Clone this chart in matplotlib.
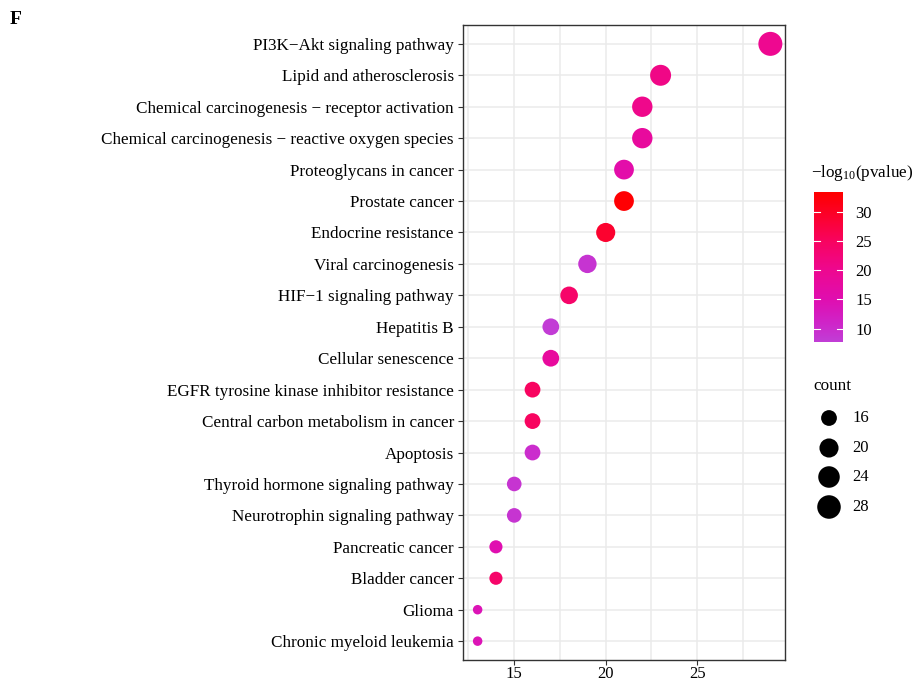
import numpy as np
import matplotlib
matplotlib.use("Agg")
import matplotlib.pyplot as plt
from matplotlib.colors import LinearSegmentedColormap, Normalize

plt.rcParams['font.family'] = ['Liberation Serif', 'DejaVu Serif']
plt.rcParams['mathtext.fontset'] = 'custom'
plt.rcParams['mathtext.rm'] = 'Liberation Serif'
plt.rcParams['mathtext.it'] = 'Liberation Serif:italic'

pathways = [
    "PI3K−Akt signaling pathway",
    "Lipid and atherosclerosis",
    "Chemical carcinogenesis − receptor activation",
    "Chemical carcinogenesis − reactive oxygen species",
    "Proteoglycans in cancer",
    "Prostate cancer",
    "Endocrine resistance",
    "Viral carcinogenesis",
    "HIF−1 signaling pathway",
    "Hepatitis B",
    "Cellular senescence",
    "EGFR tyrosine kinase inhibitor resistance",
    "Central carbon metabolism in cancer",
    "Apoptosis",
    "Thyroid hormone signaling pathway",
    "Neurotrophin signaling pathway",
    "Pancreatic cancer",
    "Bladder cancer",
    "Glioma",
    "Chronic myeloid leukemia",
]
counts = [29, 23, 22, 22, 21, 21, 20, 19, 18, 17, 17, 16, 16, 16, 15, 15, 14, 14, 13, 13]
neglogp = [20, 21, 20.5, 18, 16, 33, 29, 9, 24, 8, 18, 25, 25, 10, 9, 9, 15, 24, 14, 14]

size_breaks = [16, 20, 24, 28]
color_ticks = [10, 15, 20, 25, 30]
x_ticks = [15, 20, 25]
clim = (7.7, 33.4)

# colour ramp stops (value, colour)
stops = [(7.7, "#C13ED6"), (11, "#D024C8"), (15, "#E00EB0"), (20, "#EE0890"),
         (25, "#F80460"), (29, "#FC0230"), (33.4, "#FF0000")]
cmap = LinearSegmentedColormap.from_list(
    "pv", [((v - clim[0]) / (clim[1] - clim[0]), c) for v, c in stops])
norm = Normalize(*clim)

def diam_px(c):
    s = 1 + 5 * np.sqrt(np.clip((np.asarray(c, float) - 13) / 16, 0, 1))
    return 6.6 + 2.9 * s

def s_pts(c):
    return (diam_px(c) * 0.72) ** 2

W, H = 915, 684
fig = plt.figure(figsize=(W / 100, H / 100), dpi=100)

def fx(px): return px / W
def fy(py): return 1 - py / H

ax = fig.add_axes([fx(463), fy(660), fx(785) - fx(463), fy(25) - fy(660)])
n = len(pathways)
ypos = np.arange(n)[::-1]
ax.set_xlim(12.2, 29.8)
ax.set_ylim(-0.6, n - 1 + 0.6)
ax.set_xticks(x_ticks)
ax.set_xticks([12.5, 17.5, 22.5, 27.5], minor=True)
ax.set_yticks(ypos)
ax.set_yticklabels(pathways)
ax.grid(True, which='major', color='#EBEBEB', lw=1.1, zorder=0)
ax.grid(True, which='minor', axis='x', color='#EBEBEB', lw=1.1, zorder=0)
ax.set_axisbelow(True)
ax.tick_params(axis='y', which='major', labelsize=12.3, colors='#333333', labelcolor='black', length=3.5, width=0.8, pad=3)
ax.tick_params(axis='x', which='major', labelsize=12, colors='#333333', labelcolor='black', length=3.5, width=0.8, pad=0.5)
ax.tick_params(axis='x', which='minor', length=0)
for sp in ax.spines.values():
    sp.set_color('#333333')
    sp.set_linewidth(1.0)
ax.scatter(counts, ypos, s=s_pts(counts), c=neglogp, cmap=cmap, norm=norm, edgecolors='none', zorder=3)

# panel letter
fig.text(fx(10), fy(19), "F", fontsize=14, fontweight='bold', va='center', ha='left')

# color legend
fig.text(fx(811), fy(173), r"$\mathrm{-log_{10}(pvalue)}$", fontsize=12.3, va='center', ha='left')
cax = fig.add_axes([fx(814), fy(342), fx(843) - fx(814), fy(192) - fy(342)])
grad = np.linspace(clim[0], clim[1], 300).reshape(-1, 1)
cax.imshow(grad, aspect='auto', cmap=cmap, norm=norm, origin='lower', extent=[0, 1, clim[0], clim[1]])
cax.set_xlim(0, 1)
cax.set_ylim(*clim)
for t in color_ticks:
    cax.plot([0, 0.2], [t, t], color='white', lw=0.8)
    cax.plot([0.8, 1], [t, t], color='white', lw=0.8)
cax.set_xticks([])
cax.yaxis.tick_right()
cax.set_yticks(color_ticks)
cax.tick_params(axis='y', length=0, labelsize=12, pad=9)
for sp in cax.spines.values():
    sp.set_visible(False)

# size legend
fig.text(fx(813), fy(386), "count", fontsize=12.3, va='center', ha='left')
lax = fig.add_axes([fx(805), fy(530), fx(900) - fx(805), fy(400) - fy(530)])
lax.set_xlim(805, 900)
lax.set_ylim(530, 400)
lax.axis('off')
leg_y = [418, 448, 477, 507]
lax.scatter([829] * len(size_breaks), leg_y, s=s_pts(size_breaks), color='black', edgecolors='none')
for yy, b in zip(leg_y, size_breaks):
    lax.text(852, yy, str(b), fontsize=12, va='center', ha='left')

fig.savefig("out.png", dpi=100)
